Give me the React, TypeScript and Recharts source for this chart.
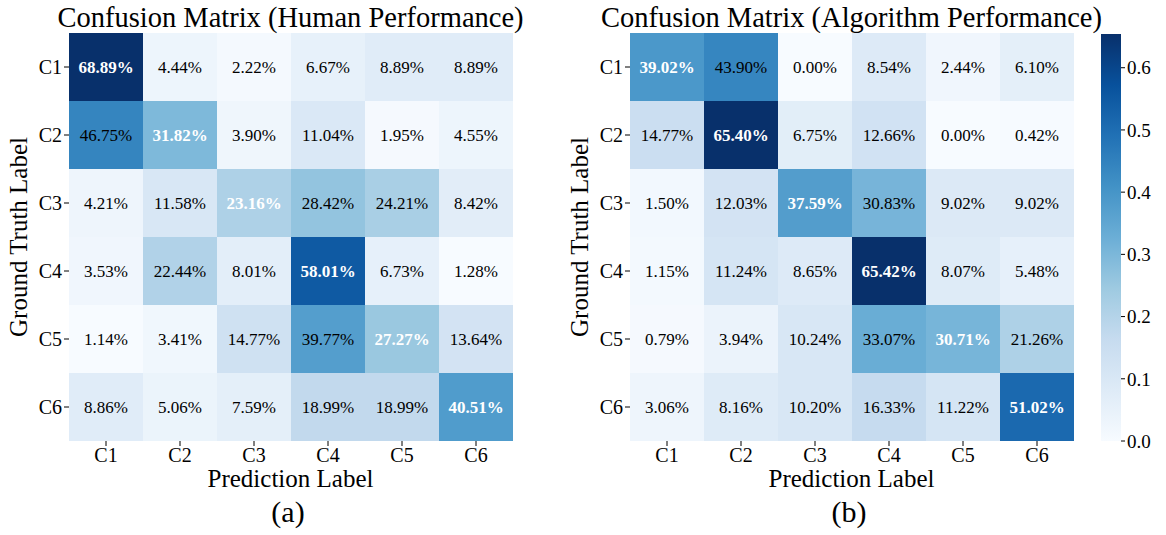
import { BarChart, Bar, XAxis, YAxis, Cell, LabelList } from 'recharts';

const classes = ['C1', 'C2', 'C3', 'C4', 'C5', 'C6'];

// rows = ground truth, columns = prediction (percent)
const humanMatrix = [
  [68.89, 4.44, 2.22, 6.67, 8.89, 8.89],
  [46.75, 31.82, 3.9, 11.04, 1.95, 4.55],
  [4.21, 11.58, 23.16, 28.42, 24.21, 8.42],
  [3.53, 22.44, 8.01, 58.01, 6.73, 1.28],
  [1.14, 3.41, 14.77, 39.77, 27.27, 13.64],
  [8.86, 5.06, 7.59, 18.99, 18.99, 40.51]
];

const algoMatrix = [
  [39.02, 43.9, 0.0, 8.54, 2.44, 6.1],
  [14.77, 65.4, 6.75, 12.66, 0.0, 0.42],
  [1.5, 12.03, 37.59, 30.83, 9.02, 9.02],
  [1.15, 11.24, 8.65, 65.42, 8.07, 5.48],
  [0.79, 3.94, 10.24, 33.07, 30.71, 21.26],
  [3.06, 8.16, 10.2, 16.33, 11.22, 51.02]
];

const colorbarTicks = [0, 0.1, 0.2, 0.3, 0.4, 0.5, 0.6];

const FONT = "'Liberation Serif', 'Times New Roman', serif";

// matplotlib "Blues"
const BLUES = ['#f7fbff', '#deebf7', '#c6dbef', '#9ecae1', '#6baed6', '#4292c6', '#2171b5', '#08519c', '#08306b'];

function hexToRgb(h: string) {
  return [parseInt(h.slice(1, 3), 16), parseInt(h.slice(3, 5), 16), parseInt(h.slice(5, 7), 16)];
}

function blues(t: number) {
  const c = Math.max(0, Math.min(1, t)) * (BLUES.length - 1);
  const i = Math.min(Math.floor(c), BLUES.length - 2);
  const f = c - i;
  const a = hexToRgb(BLUES[i]);
  const b = hexToRgb(BLUES[i + 1]);
  const rgb = a.map((v, k) => Math.round(v + (b[k] - v) * f));
  return `rgb(${rgb[0]},${rgb[1]},${rgb[2]})`;
}

function range(m: number[][]) {
  const all = m.flat().map((v) => v / 100);
  return [Math.min(...all), Math.max(...all)];
}

interface HeatmapProps {
  matrix: number[][];
  left: number;
}

function Heatmap({ matrix, left }: HeatmapProps) {
  const [vmin, vmax] = range(matrix);
  const data = classes.map((name, j) => {
    const row: Record<string, any> = { name };
    classes.forEach((_, i) => {
      row[`r${i}`] = 1;
    });
    return row;
  });

  return (
    <div style={{ position: 'absolute', left, top: 0 }}>
      <BarChart
        width={540}
        height={535}
        data={data}
        barCategoryGap={0}
        margin={{ top: 33, right: 27, bottom: 64, left: 9 }}
      >
        <XAxis
          dataKey="name"
          axisLine={false}
          tickSize={5}
          tickLine={{ stroke: '#000' }}
          tick={{ fontSize: 20, fill: '#000', fontFamily: FONT }}
          height={30}
          interval={0}
        />
        <YAxis
          type="number"
          domain={[0, classes.length]}
          reversed
          ticks={classes.map((_, i) => i + 0.5)}
          tickFormatter={(v: number) => classes[Math.floor(v)]}
          axisLine={false}
          tickSize={5}
          tickLine={{ stroke: '#000' }}
          tick={{ fontSize: 20, fill: '#000', fontFamily: FONT }}
          width={60}
        />
        {classes.map((_, i) => (
          <Bar key={i} dataKey={`r${i}`} stackId="m" isAnimationActive={false}>
            {classes.map((__, j) => (
              <Cell key={j} fill={blues((matrix[i][j] / 100 - vmin) / (vmax - vmin))} />
            ))}
            <LabelList
              dataKey={`r${i}`}
              content={(p: any) => {
                const j = p.index;
                const diag = i === j;
                return (
                  <text
                    x={p.x + p.width / 2}
                    y={p.y + p.height / 2}
                    textAnchor="middle"
                    dominantBaseline="central"
                    fontFamily={FONT}
                    fontSize={17}
                    fontWeight={diag ? 'bold' : 'normal'}
                    fill={diag ? '#fff' : '#000'}
                  >
                    {matrix[i][j].toFixed(2)}%
                  </text>
                );
              }}
            />
          </Bar>
        ))}
      </BarChart>
    </div>
  );
}

function Colorbar({ left }: { left: number }) {
  const [, vmax] = range(algoMatrix);
  const data = [{ name: 'cb', v: vmax }];
  const stops = BLUES.map((_, k) => k / (BLUES.length - 1));
  return (
    <div style={{ position: 'absolute', left, top: 0 }}>
      <BarChart
        width={86}
        height={535}
        data={data}
        barCategoryGap={0}
        margin={{ top: 34, right: 5, bottom: 94, left: 21 }}
      >
        <defs>
          <linearGradient id="cbGrad" x1="0" y1="1" x2="0" y2="0">
            {stops.map((s) => (
              <stop key={s} offset={s} stopColor={blues(s)} />
            ))}
          </linearGradient>
        </defs>
        <XAxis dataKey="name" hide />
        <YAxis
          orientation="right"
          type="number"
          domain={[0, vmax]}
          ticks={colorbarTicks}
          tickFormatter={(v: number) => v.toFixed(1)}
          axisLine={false}
          tickSize={4}
          tickLine={{ stroke: '#000' }}
          tick={{ fontSize: 19, fill: '#000', fontFamily: FONT }}
          width={40}
        />
        <Bar dataKey="v" fill="url(#cbGrad)" isAnimationActive={false} />
      </BarChart>
    </div>
  );
}

export default function App() {
  return (
    <div style={{ position: 'absolute', left: 0, top: 0, width: 1166, height: 535, background: '#fff' }}>
      <Heatmap matrix={humanMatrix} left={0} />
      <Heatmap matrix={algoMatrix} left={561} />
      <Colorbar left={1080} />
      <svg
        width={1166}
        height={535}
        style={{ position: 'absolute', left: 0, top: 0, pointerEvents: 'none' }}
        fontFamily={FONT}
      >
        <text x={290.5} y={27} textAnchor="middle" fontSize={28.5}>
          Confusion Matrix (Human Performance)
        </text>
        <text x={851.5} y={27} textAnchor="middle" fontSize={28.5}>
          Confusion Matrix (Algorithm Performance)
        </text>
        <text x={290.5} y={487} textAnchor="middle" fontSize={25}>
          Prediction Label
        </text>
        <text x={851.5} y={487} textAnchor="middle" fontSize={25}>
          Prediction Label
        </text>
        <text x={27} y={237} textAnchor="middle" fontSize={25} transform="rotate(-90 27 237)">
          Ground Truth Label
        </text>
        <text x={588} y={237} textAnchor="middle" fontSize={25} transform="rotate(-90 588 237)">
          Ground Truth Label
        </text>
        <text x={288} y={522} textAnchor="middle" fontSize={30}>
          (a)
        </text>
        <text x={849} y={522} textAnchor="middle" fontSize={30}>
          (b)
        </text>
      </svg>
    </div>
  );
}
